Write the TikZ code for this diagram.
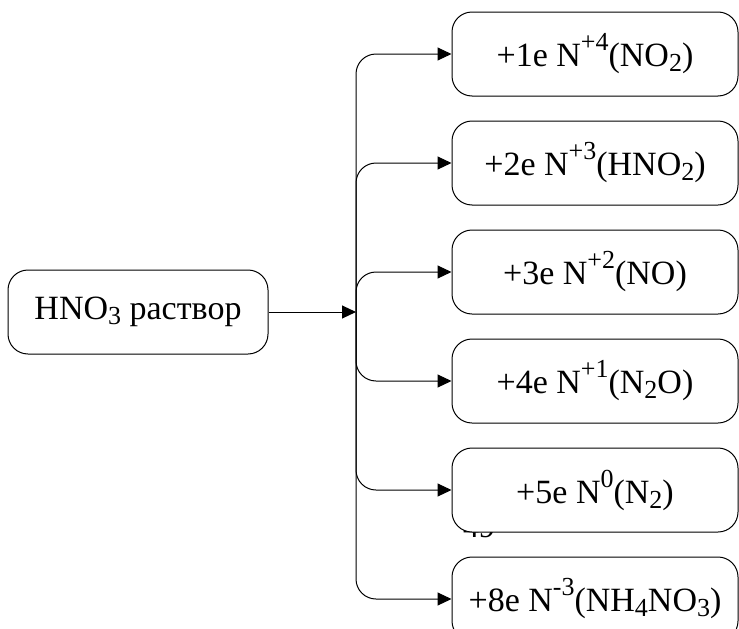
\documentclass[tikz,border=0pt]{standalone}
\usepackage{fontspec}
\setmainfont{Liberation Serif}
\usetikzlibrary{arrows.meta, positioning}
\newcommand{\upidx}[1]{\raisebox{16pt}{\fontsize{26}{26}\selectfont #1}}
\newcommand{\lowidx}[1]{\raisebox{-5pt}{\fontsize{26}{26}\selectfont #1}}
\tikzset{
  source/.style={rectangle, rounded corners=20pt, draw=black, fill=white, line width=1pt,
                 minimum width=260pt, minimum height=84pt, inner sep=0pt,
                 font=\fontsize{34}{40}\selectfont},
  product/.style={source, minimum width=286pt},
  arrow/.style={-{Triangle[length=14pt, width=13pt]}, line width=1pt},
  branch/.style={arrow, rounded corners=20pt},
}
\begin{document}
\begin{tikzpicture}[x=1pt, y=-1pt, node distance=24pt]
  \useasboundingbox (0,0) rectangle (739,629);

  % page number, half hidden under the fifth box
  \node[font=\fontsize{32}{38}\selectfont, anchor=base, inner sep=0pt] (page) at (479,537) {49};

  % starting solution
  \node[source] (hno3) at (138,312) {HNO\lowidx{3} раствор};
  \coordinate (split) at (356,312);

  % reduction products
  \node[product] (p1) at (595,54) {+1e N\upidx{+4}(NO\lowidx{2})};
  \node[product, below=of p1] (p2) {+2e N\upidx{+3}(HNO\lowidx{2})};
  \node[product, below=of p2] (p3) {+3e N\upidx{+2}(NO)};
  \node[product, below=of p3] (p4) {+4e N\upidx{+1}(N\lowidx{2}O)};
  \node[product, below=of p4] (p5) {+5e N\upidx{0}(N\lowidx{2})};
  \node[product, below=of p5] (p6) {+8e N\upidx{-3}(NH\lowidx{4}NO\lowidx{3})};

  \draw[arrow] (hno3.east) -- (split);
  \foreach \p in {p1,p2,p3,p4,p5,p6}
    \draw[branch] (split) |- (\p.west);
\end{tikzpicture}
\end{document}
